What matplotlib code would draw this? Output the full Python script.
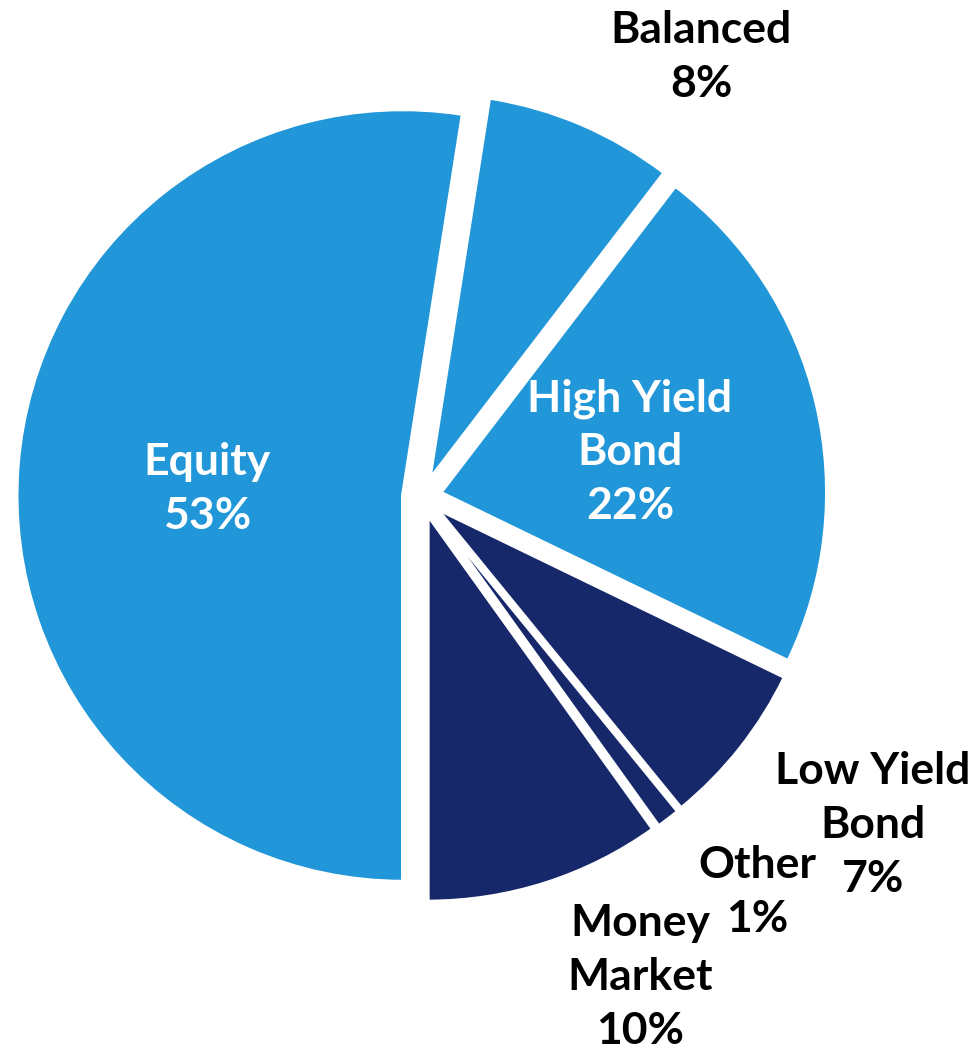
import matplotlib
matplotlib.use("Agg")
import matplotlib.pyplot as plt

# Fund category shares (%)
categories = ["Equity", "Balanced", "High Yield\nBond", "Low Yield\nBond", "Other", "Money\nMarket"]
shares = [53, 8, 22, 7, 1, 10]

LIGHT = "#2196D8"
NAVY = "#16286A"
colors = [LIGHT, LIGHT, LIGHT, NAVY, NAVY, NAVY]

W, H, DPI = 978, 1049, 100
fig = plt.figure(figsize=(W / DPI, H / DPI), dpi=DPI)
ax = fig.add_axes([0, 0, 1, 1])

# pie centre and radius in pixels
cx, cy, rpx = 422, 497, 386

ax.pie(shares, colors=colors, startangle=270, counterclock=False,
       explode=[0.05] * len(shares), radius=1.0,
       wedgeprops=dict(edgecolor="white", linewidth=2.5))

ax.set_xlim(-cx / rpx, (W - cx) / rpx)
ax.set_ylim(-(H - cy) / rpx, cy / rpx)
ax.set_aspect("equal")
ax.axis("off")

font = ["Lato", "DejaVu Sans"]
pitch = 54      # line pitch in pixels
cap_half = 15   # half cap height in pixels

# label block centres (pixels from top-left) and text colour
label_px = {
    "Equity": ((207, 487), "white"),
    "Balanced": ((701, 55), "black"),
    "High Yield\nBond": ((630, 450), "white"),
    "Low Yield\nBond": ((873, 823), "black"),
    "Other": ((757, 890), "black"),
    "Money\nMarket": ((640, 975), "black"),
}
for name, val in zip(categories, shares):
    (px, py), col = label_px[name]
    lines = f"{name}\n{val}%".split("\n")
    n = len(lines)
    for i, line in enumerate(lines):
        ly = py + (i - (n - 1) / 2) * pitch + cap_half
        ax.text((px - cx) / rpx, (cy - ly) / rpx, line, ha="center", va="baseline",
                color=col, fontsize=32, fontweight="bold", family=font)

fig.savefig("out.png", dpi=DPI)
